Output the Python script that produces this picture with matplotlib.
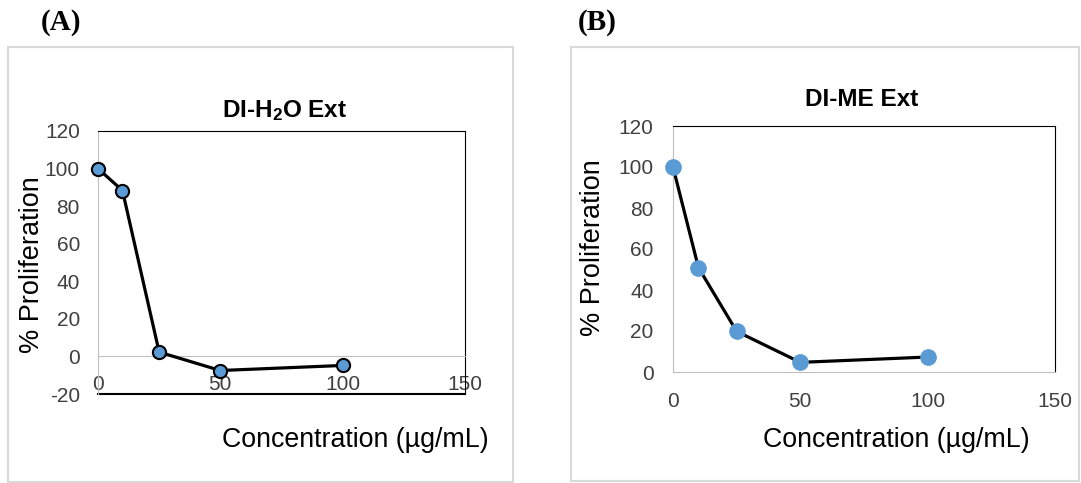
import matplotlib
matplotlib.use('Agg')
import matplotlib.pyplot as plt
from matplotlib.patches import Rectangle

# Data
conc = [0, 10, 25, 50, 100]
h2o_prolif = [100, 88.3, 2.3, -7.5, -4.8]
me_prolif = [100, 50.9, 19.8, 4.7, 7.3]

x_ticks = [0, 50, 100, 150]
h2o_yticks = [-20, 0, 20, 40, 60, 80, 100, 120]
me_yticks = [0, 20, 40, 60, 80, 100, 120]

W, H = 1081, 483
plt.rcParams['font.family'] = ['Liberation Sans', 'DejaVu Sans']
plt.rcParams['axes.unicode_minus'] = False
plt.rcParams['mathtext.fontset'] = 'custom'
plt.rcParams['mathtext.rm'] = 'Liberation Sans:bold'
plt.rcParams['mathtext.default'] = 'rm'
TXT = '#404040'
GRID = '#BFBFBF'
BLUE = '#5B9BD5'


def px(x, y):
    return x / W, 1 - y / H


def rect(x0, y0, x1, y1):
    return [x0 / W, 1 - y1 / H, (x1 - x0) / W, (y1 - y0) / H]


fig = plt.figure(figsize=(W / 100, H / 100), dpi=100)

# panel borders
for x0, y0, x1, y1 in [(8, 47, 513, 482), (571, 47, 1079, 481)]:
    fig.patches.append(Rectangle((x0 / W, 1 - y1 / H), (x1 - x0) / W, (y1 - y0) / H,
                                 transform=fig.transFigure, fill=False,
                                 edgecolor='#D9D9D9', lw=1.5))

# (A) DI-H2O
ax1 = fig.add_axes(rect(98, 131, 465, 394))
ax1.plot(conc, h2o_prolif, color='black', lw=2.3, marker='o', ms=9.5,
         mfc=BLUE, mec='black', mew=1.5, clip_on=False, zorder=5)
ax1.set_xlim(0, 150)
ax1.set_ylim(-20, 120)
ax1.set_yticks(h2o_yticks)
ax1.set_xticks(x_ticks)
ax1.spines['bottom'].set_position(('data', 0))
ax1.spines['bottom'].set_color(GRID)
ax1.spines['left'].set_color(GRID)
ax1.spines['top'].set_color('black')
ax1.spines['right'].set_color('black')
ax1.axhline(-20, color='black', lw=1.5, clip_on=False)
ax1.tick_params(length=0, labelsize=15, colors=TXT)
ax1.tick_params(axis='x', pad=13.5)
ax1.tick_params(axis='y', pad=13)
fig.text(*px(285, 111), 'DI-H$_2$O Ext', fontsize=17.5, fontweight='bold',
         ha='center', va='center', color='black')
fig.text(*px(355, 440), 'Concentration (µg/mL)', fontsize=19.3, ha='center', va='center', color='black')
fig.text(*px(32, 265), '% Proliferation', fontsize=19.5, rotation=90, ha='center', va='center', color='black')
fig.text(*px(61, 22), '(A)', fontsize=21, fontweight='bold', family='Liberation Serif',
         ha='center', va='center')

# (B) DI-ME
ax2 = fig.add_axes(rect(673, 126, 1055, 372))
ax2.plot(conc, me_prolif, color='black', lw=2.3, marker='o', ms=11,
         mfc=BLUE, mec=BLUE, clip_on=False, zorder=5)
ax2.set_xlim(0, 150)
ax2.set_ylim(0, 120)
ax2.set_yticks(me_yticks)
ax2.set_xticks(x_ticks)
ax2.spines['bottom'].set_color(GRID)
ax2.spines['left'].set_color(GRID)
ax2.spines['top'].set_color('black')
ax2.spines['right'].set_color('black')
ax2.tick_params(length=0, labelsize=15, colors=TXT)
ax2.tick_params(axis='x', pad=14.5)
ax2.tick_params(axis='y', pad=14)
fig.text(*px(862, 100), 'DI-ME Ext', fontsize=17.5, fontweight='bold',
         ha='center', va='center', color='black')
fig.text(*px(896, 440), 'Concentration (µg/mL)', fontsize=19.3, ha='center', va='center', color='black')
fig.text(*px(593, 248), '% Proliferation', fontsize=19.5, rotation=90, ha='center', va='center', color='black')
fig.text(*px(597, 22), '(B)', fontsize=21, fontweight='bold', family='Liberation Serif',
         ha='center', va='center')

fig.savefig('out.png', dpi=100)
